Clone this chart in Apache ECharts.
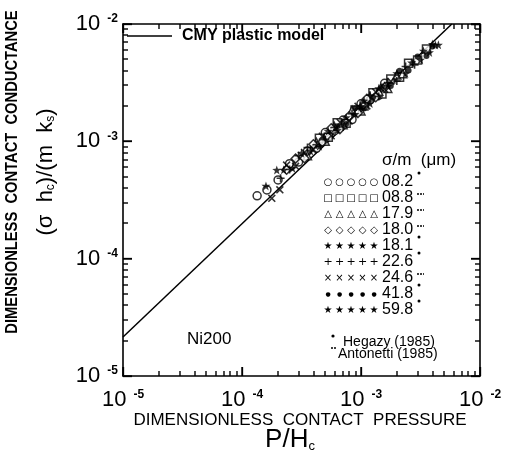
<!DOCTYPE html>
<html>
<head>
<meta charset="utf-8">
<script src="https://cdn.jsdelivr.net/npm/echarts@6/dist/echarts.min.js"></script>
<style>
  html, body { margin: 0; padding: 0; background: #fff; }
  #chart { width: 512px; height: 465px; }
</style>
</head>
<body>
<div id="chart"></div>
<script>
// CMY plastic model line, two end points
const modelLine = [[1e-5, 2.15e-5], [5.8e-3, 1e-2]];

// measured points, one array per sigma/m value (um)
const s082 = [[1.34e-4, 3.43e-4], [1.62e-4, 3.85e-4], [2.01e-4, 4.69e-4], [2.51e-4, 6.45e-4], [2.99e-4, 6.66e-4], [3.55e-4, 8.26e-4],
  [4.22e-4, 8.72e-4], [5.01e-4, 1.187e-3], [5.96e-4, 1.225e-3], [7.08e-4, 1.52e-3], [8.41e-4, 1.533e-3], [1.0e-3, 2.087e-3],
  [1.19e-3, 2.255e-3], [1.41e-3, 2.466e-3], [1.58e-3, 3.12e-3]];
const s088 = [[4.47e-4, 1.064e-3], [5.31e-4, 1.086e-3], [6.31e-4, 1.443e-3], [7.5e-4, 1.423e-3], [8.91e-4, 1.849e-3], [1.06e-3, 1.998e-3],
  [1.26e-3, 2.595e-3], [1.5e-3, 2.531e-3], [1.78e-3, 3.406e-3], [2.11e-3, 3.512e-3], [2.51e-3, 4.619e-3], [2.99e-3, 4.934e-3],
  [3.55e-3, 6.126e-3]];
const s179 = [[3.55e-4, 7.53e-4], [4.22e-4, 9.79e-4], [5.01e-4, 1.0e-3], [5.96e-4, 1.344e-3], [7.08e-4, 1.387e-3], [8.41e-4, 1.842e-3],
  [1.0e-3, 1.817e-3], [1.19e-3, 2.388e-3], [1.41e-3, 2.672e-3], [1.68e-3, 2.821e-3], [2.0e-3, 3.668e-3], [2.24e-3, 3.775e-3]];
const s180 = [[2.37e-4, 5.73e-4], [2.82e-4, 7.12e-4], [3.35e-4, 7.17e-4], [3.98e-4, 9.43e-4], [4.73e-4, 9.85e-4], [5.62e-4, 1.294e-3],
  [6.68e-4, 1.277e-3], [7.94e-4, 1.638e-3], [9.44e-4, 1.75e-3], [1.12e-3, 2.303e-3], [1.33e-3, 2.375e-3], [1.58e-3, 2.88e-3]];
const s181 = [[1.96e-4, 5.7e-4], [1.59e-4, 4.17e-4], [2.24e-4, 5.72e-4], [2.66e-4, 5.9e-4], [3.16e-4, 7.93e-4], [3.76e-4, 8.28e-4],
  [4.47e-4, 9.06e-4], [5.31e-4, 1.219e-3], [6.31e-4, 1.243e-3], [7.5e-4, 1.597e-3], [8.91e-4, 1.706e-3], [1.06e-3, 2.217e-3]];
const s226 = [[2.11e-4, 4.85e-4], [2.51e-4, 5.75e-4], [2.99e-4, 7.56e-4], [3.55e-4, 8.84e-4], [4.22e-4, 9.35e-4], [5.01e-4, 1.034e-3],
  [5.96e-4, 1.313e-3], [7.08e-4, 1.324e-3], [8.41e-4, 1.72e-3], [1.0e-3, 1.902e-3], [1.19e-3, 2.471e-3], [1.41e-3, 2.411e-3],
  [1.68e-3, 3.166e-3], [2.0e-3, 3.268e-3], [2.37e-3, 4.349e-3], [2.82e-3, 4.488e-3]];
const s246 = [[2.08e-4, 3.86e-4], [1.78e-4, 3.27e-4], [2.37e-4, 6.28e-4], [2.82e-4, 6.13e-4], [3.35e-4, 8.05e-4], [3.98e-4, 8.5e-4],
  [4.73e-4, 1.105e-3], [5.62e-4, 1.114e-3], [6.68e-4, 1.448e-3], [7.94e-4, 1.494e-3], [9.44e-4, 1.987e-3], [1.12e-3, 2.004e-3],
  [1.33e-3, 2.634e-3], [1.58e-3, 2.782e-3], [1.78e-3, 3.25e-3]];
const s418 = [[6.31e-4, 1.347e-3], [7.5e-4, 1.408e-3], [8.91e-4, 1.914e-3], [1.06e-3, 1.908e-3], [1.26e-3, 2.368e-3], [1.5e-3, 2.939e-3],
  [1.78e-3, 2.964e-3], [2.11e-3, 3.987e-3], [2.51e-3, 4.022e-3], [2.99e-3, 5.289e-3], [3.55e-3, 5.332e-3], [3.98e-3, 6.445e-3]];
const s598 = [[1.0e-3, 1.992e-3], [1.19e-3, 2.104e-3], [1.41e-3, 2.831e-3], [1.68e-3, 2.954e-3], [2.0e-3, 3.797e-3], [2.37e-3, 3.785e-3],
  [2.66e-3, 4.684e-3], [3.16e-3, 4.948e-3], [3.35e-3, 5.898e-3], [3.76e-3, 5.73e-3], [4.22e-3, 6.62e-3], [4.47e-3, 6.64e-3],
  [3.98e-3, 6.75e-3]];

// legend rows
const legendValues = ['08.2', '08.8', '17.9', '18.0', '18.1', '22.6', '24.6', '41.8', '59.8'];
const legendRefs = ['dot', 'dash', 'dash', 'dash', 'dot', 'dot', 'dash', 'dot', 'dot'];
const legendGlyphs = ['○', '□', '△', '◇', '★', '+', '×', '●', '★'];
const legendGlyphSize = [10, 10, 10, 10, 10, 11, 10, 6, 10];

// axis ticks
const AX_MIN = 1e-5, AX_MAX = 1e-2;
const majorTicks = [1e-5, 1e-4, 1e-3, 1e-2];
const minorTicks = [];
[1e-5, 1e-4, 1e-3].forEach(d => { for (let m = 2; m <= 9; m++) minorTicks.push(m * d); });

const W = 512, H = 465;
const gridBox = { left: 123, right: 32, top: 24, bottom: 89 };
const FONT = 'Liberation Sans';
const STAR = 'path://M5,0L6.18,3.38L9.76,3.45L6.9,5.62L7.94,9.05L5,7L2.06,9.05L3.1,5.62L0.24,3.45L3.82,3.38Z';
const PLUS = 'path://M4,0H6V4H10V6H6V10H4V6H0V4H4Z';
const CROSS = 'path://M1.4,0L5,3.6L8.6,0L10,1.4L6.4,5L10,8.6L8.6,10L5,6.4L1.4,10L0,8.6L3.6,5L0,1.4Z';

function tickLabel(kind) {
  return {
    margin: kind === 'x' ? 13 : 5,
    formatter: v => '{b|10}{s|-' + Math.abs(Math.round(Math.log10(v))) + '}',
    rich: {
      b: { fontSize: 22, fontFamily: FONT, color: '#000' },
      s: { fontSize: 12, fontFamily: FONT, fontWeight: 'bold', color: '#000', verticalAlign: 'top', padding: [0, 0, 0, 7] }
    },
    showMinLabel: true,
    showMaxLabel: true
  };
}

function logAxis(kind, pos, withLabel) {
  return {
    type: 'log', logBase: 10, min: AX_MIN, max: AX_MAX, position: pos,
    splitLine: { show: false },
    axisLine: { show: true, lineStyle: { color: '#000', width: 1.6 } },
    axisTick: { show: true, inside: true, length: 9, lineStyle: { color: '#000', width: 1.3 } },
    axisLabel: withLabel ? tickLabel(kind) : { show: false }
  };
}

const hollow = { color: '#fff', borderColor: '#000', borderWidth: 1.5 };
const filled = { color: '#000' };
function pts(name, data, symbol, size, style) {
  return { name: name, type: 'scatter', data: data, symbol: symbol, symbolSize: size, itemStyle: style, z: 3 };
}

const graphic = [
  { type: 'line', shape: { x1: 127, y1: 36, x2: 172, y2: 36 }, style: { stroke: '#000', lineWidth: 1.5 } },
  { type: 'text', x: 182, y: 36, style: { text: 'CMY plastic model', font: 'bold 16px "' + FONT + '"', fill: '#000', verticalAlign: 'middle' } },
  { type: 'text', x: 187, y: 339, style: { text: 'Ni200', font: '17px "' + FONT + '"', fill: '#000', verticalAlign: 'middle' } },
  { type: 'text', x: 382, y: 160, style: { text: 'σ/m  (μm)', font: '17px "' + FONT + '"', fill: '#000', verticalAlign: 'middle' } },
  { type: 'text', x: 343, y: 342, style: { text: 'Hegazy (1985)', font: '14px "' + FONT + '"', fill: '#000', verticalAlign: 'middle' } },
  { type: 'text', x: 338, y: 354, style: { text: 'Antonetti (1985)', font: '14px "' + FONT + '"', fill: '#000', verticalAlign: 'middle' } },
  { type: 'circle', shape: { cx: 333, cy: 336, r: 1.6 }, style: { fill: '#000' } },
  { type: 'line', shape: { x1: 331, y1: 348, x2: 337, y2: 348 }, style: { stroke: '#000', lineWidth: 1.3, lineDash: [2, 1] } },
  // axis titles
  { type: 'text', x: 13, y: 172, rotation: Math.PI / 2, scaleX: 0.92,
    style: { text: 'DIMENSIONLESS  CONTACT  CONDUCTANCE', font: 'bold 16px "' + FONT + '"', fill: '#000', align: 'center', verticalAlign: 'middle' } },
  { type: 'text', x: 46, y: 172, rotation: Math.PI / 2,
    style: { text: '{t|(σ  h}{u|c}{t|)/(m  k}{u|s}{t|)}', align: 'center', verticalAlign: 'middle',
      rich: { t: { fontSize: 22, fontFamily: FONT, fill: '#000' }, u: { fontSize: 12, fontFamily: FONT, fill: '#000', verticalAlign: 'bottom' } } } },
  { type: 'text', x: 300, y: 420,
    style: { text: 'DIMENSIONLESS  CONTACT  PRESSURE', font: '17px "' + FONT + '"', fill: '#000', align: 'center', verticalAlign: 'middle' } },
  { type: 'text', x: 290, y: 440,
    style: { text: '{t|P/H}{u|c}', align: 'center', verticalAlign: 'middle',
      rich: { t: { fontSize: 26, fontFamily: FONT, fill: '#000' }, u: { fontSize: 13, fontFamily: FONT, fill: '#000', verticalAlign: 'bottom' } } } }
];

legendValues.forEach((v, i) => {
  const y = 182 + 16 * i;
  for (let k = 0; k < 5; k++) {
    graphic.push({ type: 'text', x: 328 + 11.5 * k, y: y,
      style: { text: legendGlyphs[i], font: legendGlyphSize[i] + 'px "DejaVu Sans"', fill: '#000', align: 'center', verticalAlign: 'middle' } });
  }
  graphic.push({ type: 'text', x: 382, y: y, style: { text: v, font: '16px "' + FONT + '"', fill: '#000', verticalAlign: 'middle' } });
  if (legendRefs[i] === 'dot') {
    graphic.push({ type: 'circle', shape: { cx: 419, cy: y - 9, r: 1.5 }, style: { fill: '#000' } });
  } else {
    graphic.push({ type: 'line', shape: { x1: 417, y1: y - 4, x2: 424, y2: y - 4 }, style: { stroke: '#000', lineWidth: 1.3, lineDash: [2, 1] } });
  }
});

// inward ticks on the four sides of the frame, drawn as thin filled rects
const x0 = gridBox.left, x1 = W - gridBox.right, y0 = gridBox.top, y1 = H - gridBox.bottom;
const frac = v => (Math.log10(v) - Math.log10(AX_MIN)) / (Math.log10(AX_MAX) - Math.log10(AX_MIN));
function addTicks(values, len) {
  const st = { fill: '#000' };
  const w = 1.4;
  values.forEach(v => {
    const px = Math.round(x0 + frac(v) * (x1 - x0));
    const py = Math.round(y1 - frac(v) * (y1 - y0));
    graphic.push(
      { type: 'rect', shape: { x: px - w / 2, y: y1 - len, width: w, height: len }, style: st },
      { type: 'rect', shape: { x: px - w / 2, y: y0, width: w, height: len }, style: st },
      { type: 'rect', shape: { x: x0, y: py - w / 2, width: len, height: w }, style: st },
      { type: 'rect', shape: { x: x1 - len, y: py - w / 2, width: len, height: w }, style: st }
    );
  });
}
addTicks(majorTicks, 9);
addTicks(minorTicks, 5);

const chart = echarts.init(document.getElementById('chart'));
chart.setOption({
  animation: false,
  backgroundColor: '#fff',
  grid: gridBox,
  xAxis: [logAxis('x', 'bottom', true), logAxis('x', 'top', false)],
  yAxis: [logAxis('y', 'left', true), logAxis('y', 'right', false)],
  graphic: graphic,
  series: [
    { name: 'CMY plastic model', type: 'line', data: modelLine, showSymbol: false, lineStyle: { color: '#000', width: 1.5 }, z: 2 },
    pts('08.2', s082, 'circle', 8, hollow),
    pts('08.8', s088, 'rect', 8, hollow),
    pts('17.9', s179, 'triangle', 8, hollow),
    pts('18.0', s180, 'diamond', 9, hollow),
    pts('18.1', s181, STAR, 9, filled),
    pts('22.6', s226, PLUS, 8, filled),
    pts('24.6', s246, CROSS, 8, filled),
    pts('41.8', s418, 'circle', 6, filled),
    pts('59.8', s598, STAR, 9, filled)
  ]
});
</script>
</body>
</html>
